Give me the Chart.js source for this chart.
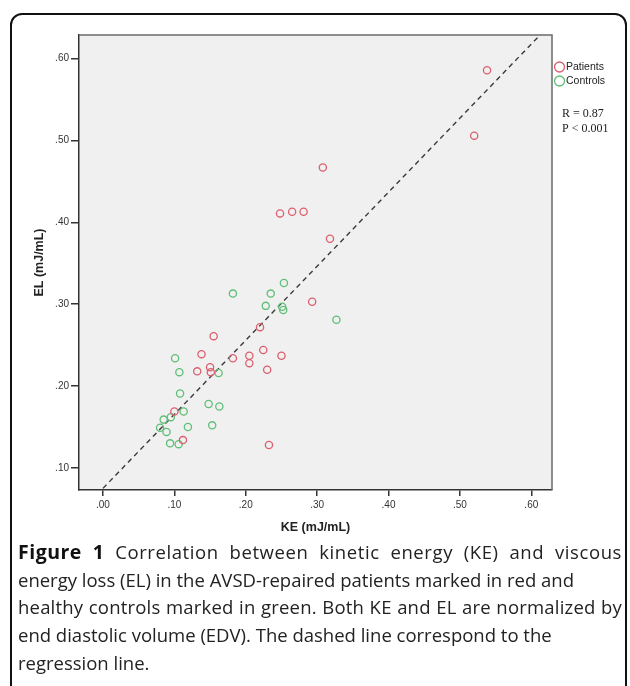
<!DOCTYPE html>
<html>
<head>
<meta charset="utf-8">
<script src="https://cdn.jsdelivr.net/npm/chart.js@4"></script>
<style>
  html,body{margin:0;padding:0;background:#fff;}
  body{width:630px;height:686px;position:relative;overflow:hidden;}
  #frame{position:absolute;left:10px;top:13px;width:617px;height:700px;border:2px solid #111;border-radius:12px;box-sizing:border-box;}
  #wrap{position:absolute;left:0;top:0;width:630px;height:545px;}
  #caption{position:absolute;left:18px;top:538px;width:604px;font-family:"Open Sans",sans-serif;font-size:18.5px;line-height:27.7px;color:#222;white-space:nowrap;}
  #caption div{height:27.7px;}
  #caption .j{text-align:justify;text-align-last:justify;}
  #caption .l1{letter-spacing:0.6px;}
  #caption .l3{letter-spacing:0.2px;}
  #caption b{font-weight:700;color:#111;font-size:19.5px;letter-spacing:0.5px;}
</style>
</head>
<body>
<div id="frame"></div>
<div id="wrap"><canvas id="c" width="630" height="545"></canvas></div>
<div id="caption"><div class="j l1"><b>Figure 1</b> Correlation between kinetic energy (KE) and viscous</div><div>energy loss (EL) in the AVSD-repaired patients marked in red and</div><div class="j l3">healthy controls marked in green. Both KE and EL are normalized by</div><div>end diastolic volume (EDV). The dashed line correspond to the</div><div>regression line.</div></div>
<script>
// ---- data ----
const patientsKE = [0.248,0.265,0.281,0.538,0.520,0.308,0.318,0.293,0.220,0.155,0.138,0.182,0.205,0.205,0.2245,0.250,0.132,0.150,0.151,0.230,0.100,0.112,0.2325];
const patientsEL = [0.411,0.413,0.413,0.586,0.506,0.467,0.380,0.303,0.272,0.261,0.239,0.234,0.237,0.228,0.244,0.237,0.218,0.223,0.217,0.220,0.169,0.134,0.128];
const controlsKE = [0.2535,0.182,0.235,0.228,0.251,0.2525,0.327,0.101,0.107,0.162,0.108,0.148,0.163,0.113,0.085,0.095,0.080,0.089,0.119,0.153,0.094,0.106];
const controlsEL = [0.326,0.313,0.313,0.298,0.297,0.293,0.281,0.234,0.217,0.216,0.191,0.178,0.175,0.169,0.159,0.162,0.149,0.144,0.150,0.152,0.130,0.129];
const regressionKE = [0.0, 0.62];
const regressionEL = [0.075, 0.636];
const xTicks = [0.0,0.1,0.2,0.3,0.4,0.5,0.6];
const yTicks = [0.1,0.2,0.3,0.4,0.5,0.6];
const seriesLabels = ["Patients","Controls"];
const statsText = ["R = 0.87","P < 0.001"];

const RED = "#dc5f6e", GREEN = "#5fbf76";
const toPts = (xs, ys) => xs.map((x,i)=>({x:x,y:ys[i]}));
const fmt = v => v.toFixed(2).replace(/^0/,'');

const plotDecor = {
  id:'plotDecor',
  beforeDraw(chart){
    const {ctx, chartArea:a} = chart;
    ctx.save();
    ctx.fillStyle = '#f0f0f0';
    ctx.fillRect(a.left, a.top, a.right-a.left, a.bottom-a.top);
    ctx.restore();
  },
  afterDraw(chart){
    const {ctx, chartArea:a} = chart;
    ctx.save();
    ctx.strokeStyle = '#6a6a6a';
    ctx.lineWidth = 1.5;
    ctx.beginPath();
    ctx.moveTo(a.left, a.top); ctx.lineTo(a.right, a.top); ctx.lineTo(a.right, a.bottom);
    ctx.stroke();
    // legend
    const ds = chart.data.datasets;
    ctx.font = '10.5px "Liberation Sans", Arial, sans-serif';
    ctx.textBaseline = 'middle';
    ctx.fillStyle = '#222';
    for (let i=0;i<2;i++){
      const cy = 67 + i*14;
      ctx.beginPath();
      ctx.arc(559.5, cy, 5, 0, Math.PI*2);
      ctx.strokeStyle = ds[i].borderColor;
      ctx.lineWidth = 1.3;
      ctx.stroke();
      ctx.fillText(ds[i].label, 566, cy+0.5);
    }
    ctx.font = '12px "Liberation Serif", "Times New Roman", serif';
    ctx.fillStyle = '#222';
    statsText.forEach((t,i)=> ctx.fillText(t, 562, 114 + i*15));
    ctx.restore();
  }
};

new Chart(document.getElementById('c'), {
  type:'scatter',
  data:{
    datasets:[
      {label:seriesLabels[0], data:toPts(patientsKE,patientsEL), borderColor:RED, backgroundColor:'rgba(0,0,0,0)', pointRadius:3.6, borderWidth:1.3},
      {label:seriesLabels[1], data:toPts(controlsKE,controlsEL), borderColor:GREEN, backgroundColor:'rgba(0,0,0,0)', pointRadius:3.6, borderWidth:1.3},
      {type:'line', label:'Regression', data:toPts(regressionKE,regressionEL), borderColor:'#3a3a3a', borderWidth:1.4, borderDash:[5,4], pointRadius:0, fill:false}
    ]
  },
  options:{
    responsive:false, animation:false, devicePixelRatio:1, events:[],
    layout:{padding:{left:32, right:78, top:35, bottom:10}},
    plugins:{legend:{display:false}, tooltip:{enabled:false}},
    scales:{
      x:{
        type:'linear', min:-0.0336, max:0.629,
        afterBuildTicks: s => { s.ticks = xTicks.map(v=>({value:v})); },
        afterFit: s => { s.height = 45; },
        grid:{drawOnChartArea:false, drawTicks:true, tickLength:6, color:'#333', lineWidth:1.5},
        border:{display:true, color:'#333', width:1.5},
        ticks:{callback:v=>fmt(v), font:{family:'"Liberation Sans", Arial, sans-serif', size:10}, color:'#333', padding:3, maxRotation:0, autoSkip:false},
        title:{display:true, text:'KE (mJ/mL)', font:{family:'"Liberation Sans", Arial, sans-serif', size:12.5, weight:'bold'}, color:'#222', padding:{top:0,bottom:0}}
      },
      y:{
        type:'linear', min:0.073, max:0.629,
        afterBuildTicks: s => { s.ticks = yTicks.map(v=>({value:v})); },
        afterFit: s => { s.width = 47; },
        grid:{drawOnChartArea:false, drawTicks:true, tickLength:8, color:'#333', lineWidth:1.5},
        border:{display:true, color:'#333', width:1.5},
        ticks:{callback:v=>fmt(v), font:{family:'"Liberation Sans", Arial, sans-serif', size:10}, color:'#333', padding:2, autoSkip:false},
        title:{display:true, text:'EL (mJ/mL)', font:{family:'"Liberation Sans", Arial, sans-serif', size:12.5, weight:'bold'}, color:'#222', padding:{top:0,bottom:0}}
      }
    }
  },
  plugins:[plotDecor]
});
</script>
</body>
</html>
